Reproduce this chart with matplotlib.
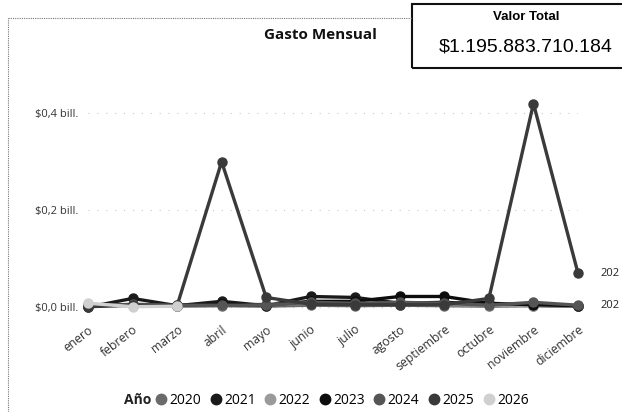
import matplotlib
matplotlib.use("Agg")
import matplotlib.pyplot as plt
from matplotlib.lines import Line2D
from matplotlib.patches import Rectangle
from matplotlib.ticker import FuncFormatter

plt.rcParams['font.family'] = ['Open Sans', 'DejaVu Sans']

# ---- datos (billones de pesos) ----
meses = ['enero', 'febrero', 'marzo', 'abril', 'mayo', 'junio', 'julio',
         'agosto', 'septiembre', 'octubre', 'noviembre', 'diciembre']
anios = ['2020', '2021', '2022', '2023', '2024', '2025', '2026']

v2020 = [0.002, 0.004, 0.002, 0.003, 0.002, 0.004, 0.003, 0.004, 0.003, 0.002, 0.003, 0.002]
v2021 = [0.000, 0.018, 0.003, 0.012, 0.003, 0.022, 0.020, 0.008, 0.010, 0.006, 0.004, 0.002]
v2022 = [0.006, 0.003, 0.002, 0.004, 0.006, 0.008, 0.006, 0.006, 0.005, 0.004, 0.003, 0.002]
v2023 = [0.003, 0.005, 0.004, 0.006, 0.004, 0.012, 0.012, 0.022, 0.022, 0.008, 0.005, 0.003]
v2024 = [0.002, 0.006, 0.004, 0.004, 0.004, 0.010, 0.008, 0.010, 0.008, 0.004, 0.010, 0.004]
v2025 = [0.001, 0.004, 0.003, 0.300, 0.020, 0.006, 0.005, 0.005, 0.005, 0.018, 0.420, 0.070]
v2026 = [0.008, 0.001, 0.002]

series = [v2020, v2021, v2022, v2023, v2024, v2025, v2026]
colores = ['#6a6a6a', '#1a1a1a', '#9a9a9a', '#0d0d0d', '#555555', '#3a3a3a', '#d0d0d0']

valor_total = '$1.195.883.710.184'

# ---- figura ----
W, H = 622, 412
fig = plt.figure(figsize=(W / 100, H / 100), dpi=100)

ymin, ymax = -0.01, 0.45
ax = fig.add_axes([88 / W, 1 - 312 / H, (578 - 88) / W, (312 - 89) / H])
ax.set_xlim(0, 11)
ax.set_ylim(ymin, ymax)

for vals, c in zip(series, colores):
    ax.plot(range(len(vals)), vals, color=c, lw=2.4, marker='o', ms=6.5,
            mec=c, clip_on=False, zorder=3)

ax.set_yticks([0.0, 0.2, 0.4])
ax.yaxis.set_major_formatter(FuncFormatter(lambda v, p: f'${v:.1f} bill.'.replace('.', ',', 1)))
ax.set_xticks(range(12))
ax.set_xticklabels(meses, rotation=38, ha='right', rotation_mode='anchor')
ax.tick_params(axis='y', length=0, pad=7, labelsize=8, labelcolor='#333333')
ax.tick_params(axis='x', length=0, pad=8, labelsize=8.8, labelcolor='#333333')
for s in ax.spines.values():
    s.set_visible(False)
ax.grid(axis='y', color='#c8c8c8', lw=0.8, linestyle=(0, (1, 7)))
ax.set_axisbelow(True)

# etiquetas al final de línea (recortadas en el original)
ax.annotate('202', xy=(11, v2025[-1]), xytext=(16, 0), textcoords='offset points',
            va='center', fontsize=8, color='#222222', annotation_clip=False)
ax.annotate('202', xy=(11, v2024[-1]), xytext=(16, 0), textcoords='offset points',
            va='center', fontsize=8, color='#222222', annotation_clip=False)

# título
fig.text(320 / W, 1 - 35 / H, 'Gasto Mensual', ha='center', va='center',
         fontsize=11, fontweight='bold', color='#111111')

# borde punteado del visual
fig.add_artist(Line2D([8 / W, 8 / W], [0, 1 - 18 / H], color='#777777', lw=0.8,
                      linestyle=(0, (1, 1))))
fig.add_artist(Line2D([8 / W, 412 / W], [1 - 18 / H, 1 - 18 / H], color='#777777', lw=0.8,
                      linestyle=(0, (1, 1))))

# tarjeta de valor total
fig.add_artist(Rectangle((412 / W, 1 - 68 / H), 220 / W, 64 / H, transform=fig.transFigure,
                         fill=False, ec='#111111', lw=1.5))
fig.text(526 / W, 1 - 17 / H, 'Valor Total', ha='center', va='center', fontsize=9.5,
         fontweight='bold', family='Liberation Sans')
fig.text(526 / W, 1 - 47 / H, valor_total, ha='center', va='center', fontsize=14,
         family='Liberation Sans')

# leyenda
fig.text(151 / W, 1 - 400 / H, 'Año', ha='right', va='center', fontsize=10,
         fontweight='bold', color='#222222')
handles = [Line2D([], [], ls='none', marker='o', ms=7.5, color=c) for c in colores]
fig.legend(handles, anios, loc='center left', bbox_to_anchor=(154 / W, 1 - 400 / H),
           ncol=7, frameon=False, fontsize=10, handletextpad=0.1, columnspacing=0.55,
           handlelength=1.0, borderaxespad=0, borderpad=0)

fig.savefig('out.png', dpi=100)
